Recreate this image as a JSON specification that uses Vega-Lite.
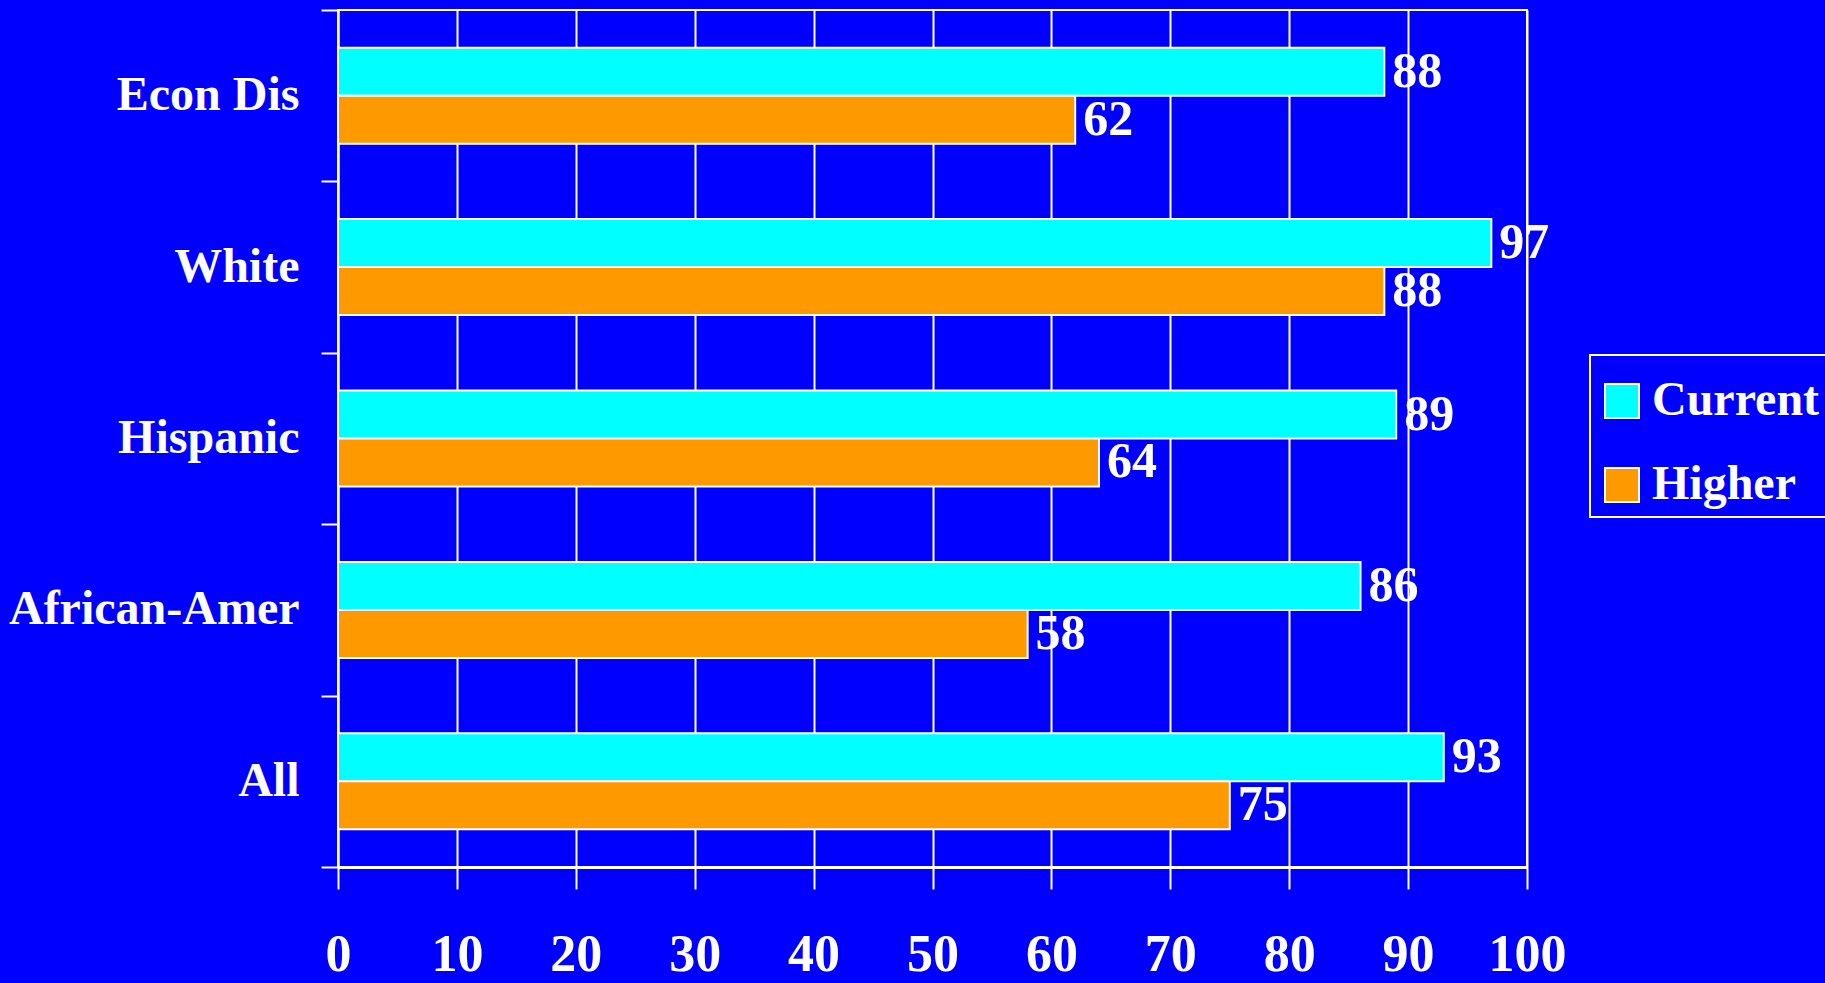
{
  "$schema": "https://vega.github.io/schema/vega-lite/v6.json",
  "width": 1189,
  "height": 857,
  "autosize": {"type": "none"},
  "padding": {"left": 338, "top": 10, "right": 298, "bottom": 116},
  "background": "#0000FF",
  "config": {
    "view": {"stroke": "white", "strokeWidth": 2},
    "font": "Liberation Serif"
  },
  "data": {
    "values": [
      {"group": "Econ Dis", "series": "Current", "value": 88},
      {"group": "Econ Dis", "series": "Higher", "value": 62},
      {"group": "White", "series": "Current", "value": 97},
      {"group": "White", "series": "Higher", "value": 88},
      {"group": "Hispanic", "series": "Current", "value": 89},
      {"group": "Hispanic", "series": "Higher", "value": 64},
      {"group": "African-Amer", "series": "Current", "value": 86},
      {"group": "African-Amer", "series": "Higher", "value": 58},
      {"group": "All", "series": "Current", "value": 93},
      {"group": "All", "series": "Higher", "value": 75}
    ]
  },
  "encoding": {
    "y": {
      "field": "group",
      "type": "nominal",
      "sort": ["Econ Dis", "White", "Hispanic", "African-Amer", "All"],
      "scale": {"paddingInner": 0, "paddingOuter": 0},
      "axis": {
        "title": null,
        "tickBand": "extent",
        "grid": false,
        "domainColor": "white",
        "domainWidth": 2,
        "tickColor": "white",
        "tickWidth": 2,
        "tickSize": 17,
        "labelColor": "white",
        "labelFont": "Liberation Serif",
        "labelFontWeight": "bold",
        "labelFontSize": 48,
        "labelPadding": 22,
        "labelLimit": 400
      }
    },
    "yOffset": {
      "field": "series",
      "type": "nominal",
      "sort": ["Current", "Higher"],
      "scale": {"paddingInner": 0, "paddingOuter": 0.786}
    },
    "x": {
      "field": "value",
      "type": "quantitative",
      "scale": {"domain": [0, 100], "nice": false},
      "axis": {
        "title": null,
        "values": [0, 10, 20, 30, 40, 50, 60, 70, 80, 90, 100],
        "grid": true,
        "gridColor": "white",
        "gridWidth": 2,
        "gridOpacity": 1,
        "domainColor": "white",
        "domainWidth": 3,
        "tickColor": "white",
        "tickWidth": 2,
        "tickSize": 22,
        "labelColor": "white",
        "labelFont": "Liberation Serif",
        "labelFontWeight": "bold",
        "labelFontSize": 52,
        "labelPadding": 40,
        "labelFlush": false
      }
    }
  },
  "layer": [
    {
      "mark": {"type": "bar", "stroke": "white", "strokeWidth": 2},
      "encoding": {
        "color": {
          "field": "series",
          "type": "nominal",
          "scale": {"domain": ["Current", "Higher"], "range": ["#00FFFF", "#FF9900"]},
          "legend": {
            "title": " ",
            "titleFontSize": 14,
            "titlePadding": 0,
            "orient": "none",
            "legendX": 1252,
            "legendY": 345,
            "strokeColor": "white",
            "fillColor": "#0000FF",
            "padding": 8,
            "symbolType": "square",
            "symbolSize": 1156,
            "symbolStrokeColor": "white",
            "symbolStrokeWidth": 2,
            "symbolFillOpacity": 1,
            "labelColor": "white",
            "labelFont": "Liberation Serif",
            "labelFontWeight": "bold",
            "labelFontSize": 48,
            "labelOffset": 6,
            "rowPadding": 36,
            "labelLimit": 400,
            "encode": {"legend": {"update": {"strokeWidth": {"value": 2}}}}
          }
        }
      }
    },
    {
      "mark": {
        "type": "text",
        "align": "left",
        "baseline": "middle",
        "dx": 8,
        "font": "Liberation Serif",
        "fontWeight": "bold",
        "fontSize": 50,
        "color": "white"
      },
      "encoding": {"text": {"field": "value", "type": "quantitative"}}
    }
  ]
}
